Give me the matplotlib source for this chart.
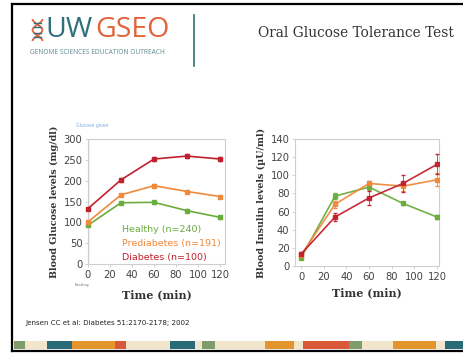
import matplotlib
matplotlib.use("Agg")
import matplotlib.pyplot as plt
import numpy as np

W, H = 464, 354

# data
times = [0, 30, 60, 90, 120]
groups = ["Healthy (n=240)", "Prediabetes (n=191)", "Diabetes (n=100)"]
colors = ["#6aad3d", "#f0893a", "#c3202e"]

glucose = {
    "Healthy (n=240)": [93, 147, 148, 128, 112],
    "Prediabetes (n=191)": [101, 166, 188, 174, 162],
    "Diabetes (n=100)": [133, 202, 252, 259, 252],
}
glucose_err = {
    "Healthy (n=240)": [2, 3, 3, 3, 3],
    "Prediabetes (n=191)": [2, 3, 3, 3, 3],
    "Diabetes (n=100)": [3, 4, 4, 4, 4],
}
insulin = {
    "Healthy (n=240)": [9, 77, 87, 69, 54],
    "Prediabetes (n=191)": [12, 68, 91, 88, 95],
    "Diabetes (n=100)": [13, 54, 75, 91, 112],
}
insulin_err = {
    "Healthy (n=240)": [1, 3, 3, 2, 2],
    "Prediabetes (n=191)": [1, 4, 3, 5, 7],
    "Diabetes (n=100)": [2, 4, 8, 9, 11],
}

# decorative footer strip: (start px, end px, colour)
strip_starts = [14, 25, 47, 72, 115, 126, 170, 195, 202, 215, 265, 294, 303, 349, 362, 393, 436, 445]
strip_ends = [25, 47, 72, 115, 126, 170, 195, 202, 215, 265, 294, 303, 349, 362, 393, 436, 445, 464]
strip_cols = ["#7f9c6c", "#f1e6cc", "#2b6b78", "#e3952c", "#d9583a", "#f1e6cc", "#2b6b78", "#f1e6cc",
              "#7f9c6c", "#f1e6cc", "#e3952c", "#f1e6cc", "#d9583a", "#7f9c6c", "#f1e6cc", "#e3952c",
              "#f1e6cc", "#2b6b78"]

TEAL = "#2e6f7c"
ORANGE = "#e2623b"


def fx(x):
    return x / W


def fy(y):
    return 1 - y / H


def px_axes(l, t, r, b):
    return [fx(l), fy(b), (r - l) / W, (b - t) / H]


fig = plt.figure(figsize=(W / 100, H / 100), dpi=100)
fig.patch.set_facecolor("white")

# slide border
bg = fig.add_axes([0, 0, 1, 1])
bg.set_xlim(0, W)
bg.set_ylim(H, 0)
bg.axis("off")
bg.plot([12.5, 12.5], [4, 351], color="black", lw=1.6)
bg.plot([12.5, W], [4, 4], color="black", lw=1.6)
bg.plot([12.5, W], [351, 351], color="black", lw=1.6)
for s, e, c in zip(strip_starts, strip_ends, strip_cols):
    bg.fill_between([s, e], 341, 348.5, color=c, lw=0)

# header: logo + title
bg.plot([194, 194], [15, 66], color=TEAL, lw=1.2)
fig.text(fx(45), fy(30), "UW", color=TEAL, fontsize=20.5, family="Open Sans",
         ha="left", va="center")
fig.text(fx(95), fy(30), "GSEO", color=ORANGE, fontsize=20.5, family="Open Sans",
         ha="left", va="center")
fig.text(fx(30), fy(52.5), "GENOME SCIENCES EDUCATION OUTREACH", color="#5f8a90",
         fontsize=4.8, family="Open Sans", ha="left", va="center")
icon = fig.add_axes(px_axes(31, 19, 44, 41))
icon.axis("off")
tt = np.linspace(0, 1, 40)
icon.plot(0.5 + 0.38 * np.cos(np.pi * 2 * tt), tt, color=ORANGE, lw=1.3)
icon.plot(0.5 - 0.38 * np.cos(np.pi * 2 * tt), tt, color=ORANGE, lw=1.3)
for yy in [0.2, 0.38, 0.62, 0.8]:
    icon.plot([0.25, 0.75], [yy, yy], color=TEAL, lw=1.0)
icon.set_xlim(0, 1)
icon.set_ylim(0, 1)

fig.text(fx(258), fy(33), "Oral Glucose Tolerance Test", color="#333333",
         fontsize=9.9, family="DejaVu Serif", ha="left", va="center")

fig.text(fx(25), fy(323), "Jensen CC et al: Diabetes 51:2170-2178; 2002", color="#222222",
         fontsize=5.1, ha="left", va="center")


def style(ax):
    for sp in ax.spines.values():
        sp.set_color("#cfcfcf")
        sp.set_linewidth(0.8)
    ax.tick_params(labelsize=7.2, colors="#cccccc", labelcolor="#444444", length=2, width=0.6, pad=2)
    ax.set_facecolor("white")


# glucose panel
ax1 = fig.add_axes(px_axes(88, 139, 225, 264))
style(ax1)
ax1.axvline(0, color="#9fc3e6", lw=1.0, zorder=1)
for g, c in zip(groups, colors):
    ax1.errorbar(times, glucose[g], yerr=glucose_err[g], color=c, lw=1.2, marker="s", ms=2.4,
                 elinewidth=0.6, capsize=1, clip_on=False, zorder=3)
ax1.set_xlim(0, 124.5)
ax1.set_ylim(0, 300)
ax1.set_xticks([0, 20, 40, 60, 80, 100, 120])
ax1.set_yticks([0, 50, 100, 150, 200, 250, 300])
ax1.set_ylabel("Blood Glucose levels (mg/dl)", family="DejaVu Serif", fontweight="bold",
               fontsize=6.8, color="#333333", labelpad=3)
ax1.set_xlabel("Time (min)", family="DejaVu Serif", fontweight="bold", fontsize=8,
               color="#333333", labelpad=7)
for i, (g, c) in enumerate(zip(groups, colors)):
    ax1.text(0.25, 0.28 - i * 0.115, g, transform=ax1.transAxes, color=c, fontsize=6.8,
             ha="left", va="center")
fig.text(fx(76), fy(126), "Glucose given", color="#7fa9d6", fontsize=3.3, ha="left", va="center")
fig.text(fx(75), fy(285), "Fasting", color="#777777", fontsize=3, ha="left", va="center")

# insulin panel
ax2 = fig.add_axes(px_axes(295, 139, 439, 266))
style(ax2)
for g, c in zip(groups, colors):
    ax2.errorbar(times, insulin[g], yerr=insulin_err[g], color=c, lw=1.2, marker="s", ms=2.4,
                 elinewidth=0.6, ecolor=c, capsize=1.2, alpha=0.95, zorder=3)
ax2.set_xlim(-5.3, 121.8)
ax2.set_ylim(0, 140)
ax2.set_xticks([0, 20, 40, 60, 80, 100, 120])
ax2.set_yticks([0, 20, 40, 60, 80, 100, 120, 140])
ax2.set_ylabel("Blood Insulin levels (\u00b5U/ml)", family="DejaVu Serif", fontweight="bold",
               fontsize=6.8, color="#333333", labelpad=3)
ax2.set_xlabel("Time (min)", family="DejaVu Serif", fontweight="bold", fontsize=8,
               color="#333333", labelpad=4)

fig.savefig("out.png", dpi=100)
